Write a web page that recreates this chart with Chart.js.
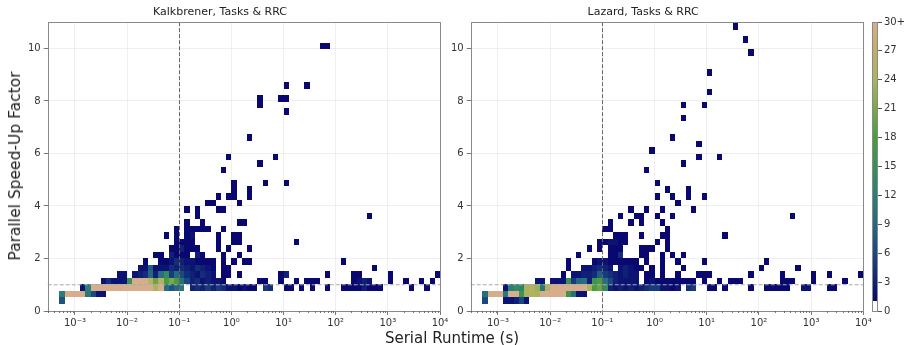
<!DOCTYPE html>
<html>
<head>
<meta charset="utf-8">
<script src="https://cdn.jsdelivr.net/npm/chart.js@4.4.1/dist/chart.umd.min.js"></script>
<style>
  body { margin: 0; background: #fff; width: 906px; height: 345px; position: relative; overflow: hidden; font-family: 'DejaVu Sans', sans-serif; }
  canvas { position: absolute; top: 0; }
  #ylab { position: absolute; left: 14.5px; top: 166px; transform: translate(-50%, -50%) rotate(-90deg); font-size: 15.5px; color: #222; white-space: nowrap; }
  #xlab { position: absolute; left: 452px; top: 338px; transform: translate(-50%, -50%); font-size: 15px; color: #222; white-space: nowrap; }
</style>
</head>
<body>
<canvas id="kalk" width="460" height="345" style="left:0"></canvas>
<canvas id="laz" width="460" height="345" style="left:423px"></canvas>
<canvas id="cbar" width="46" height="345" style="left:860px"></canvas>
<div id="ylab">Parallel Speed-Up Factor</div>
<div id="xlab">Serial Runtime (s)</div>
<script>
// histogram bins: runtime bin i spans 10^(i/10)..10^((i+1)/10),
// speed-up bin j spans start + j*width .. start + (j+1)*width
const runtimeBinsPerDecade = 10;
const speedupBinStart = 0.27;
const speedupBinWidth = 0.2485;

const panelTitles = ['Kalkbrener, Tasks & RRC', 'Lazard, Tasks & RRC'];
const runtimeTicks = [1e-3, 1e-2, 1e-1, 1, 10, 100, 1000, 10000];
const runtimeTickLabels = ['10⁻³', '10⁻²', '10⁻¹', '10⁰', '10¹', '10²', '10³', '10⁴'];
const speedupTicks = [0, 2, 4, 6, 8, 10];
const countTicks = [0, 3, 6, 9, 12, 15, 18, 21, 24, 27, 30];
const countTickLabels = ['0', '3', '6', '9', '12', '15', '18', '21', '24', '27', '30+'];
const countMax = 30;

// [speed-up bin j, first runtime bin i, counts for bins i, i+1, ...]
const kalkCells = [
  [0, -33, 7],
  [1, -33, 12, 35, 35, 35, 35, 11, 6, 2, 2],
  [2, -29, 2, 12, 35, 35, 35, 35, 35, 35, 35, 35, 35, 35, 35, 35, 24, 30, 10, 7, 9, 11],
  [2, -8, 3, 4, 3, 5, 3, 5, 4, 2, 2, 1, 2, 1, 1, 0, 5, 4],
  [2, 10, 1, 1, 0, 1, 0, 1, 0, 0, 1], [2, 21, 1, 1, 1, 1, 3, 1, 1, 1], [2, 34, 1], [2, 37, 1],
  [3, -25, 2, 4, 2, 2, 2, 15, 35, 35, 35, 26, 20, 25, 18, 21, 18, 10, 6, 3, 4, 2, 3, 2, 2, 1],
  [3, 5, 1, 1], [3, 9, 1], [3, 12, 1], [3, 14, 1, 1, 1], [3, 23, 1, 2, 3, 2], [3, 30, 1], [3, 33, 1], [3, 36, 1], [3, 38, 1],
  [4, -22, 2, 2, 0, 2, 3, 4, 9, 3, 10, 14, 5, 9, 6, 4, 3, 2, 4, 3, 2, 0, 1, 1, 0, 1],
  [4, 9, 1, 3], [4, 18, 1], [4, 23, 1, 1], [4, 30, 1], [4, 39, 1],
  [5, -18, 2, 2, 8, 2, 2, 2, 4, 3, 4, 3, 2, 4, 3, 2, 1, 0, 1, 1], [5, 27, 1],
  [6, -17, 1], [6, -14, 1, 1, 2, 4, 3, 2, 2, 1, 1, 1, 1], [6, -2, 1], [6, 0, 1], [6, 2, 1, 1], [6, 21, 1],
  [7, -15, 1, 1], [7, -12, 3, 1, 1, 1], [7, -7, 3, 1], [7, -2, 1], [7, 1, 1],
  [8, -12, 1, 1, 3, 1, 1, 1], [8, -3, 1], [8, -1, 1], [8, 3, 1],
  [9, -11, 1, 1, 1, 1], [9, -3, 1], [9, 0, 1, 1], [9, 12, 1],
  [10, -13, 1], [10, -11, 1, 0, 1, 2], [10, -3, 1], [10, 0, 1, 1],
  [11, -11, 1], [11, -9, 1, 1, 1, 1, 1], [11, -2, 1],
  [12, -9, 1], [12, -6, 1], [12, 1, 1, 1],
  [13, -7, 1], [13, 26, 1],
  [14, -9, 1], [14, -7, 1], [14, -3, 1, 1],
  [15, -5, 1, 1], [15, 1, 1],
  [16, -3, 1], [16, -1, 1, 1], [16, 3, 1],
  [17, 0, 1], [17, 3, 1],
  [18, 0, 1], [18, 6, 1], [18, 10, 1],
  [20, -2, 1], [21, 5, 1], [22, -1, 1], [22, 8, 1],
  [25, 3, 1], [29, 10, 1], [30, 5, 1], [31, 5, 1], [31, 9, 1, 1],
  [33, 10, 1], [33, 14, 1], [39, 17, 1, 1]
];

const lazardCells = [
  [0, -33, 6], [0, -29, 2, 2, 3, 6, 2],
  [1, -33, 10, 35, 35, 35, 11, 32, 30, 16, 24, 25, 24, 35, 35, 35, 35, 35, 16, 10, 2, 2],
  [2, -29, 2, 12, 14, 13, 24, 25, 23, 11, 25, 35, 35, 35, 35, 35, 35, 35, 24, 18, 20, 14, 3, 2, 3, 2, 3, 2, 3, 4, 5, 5, 2, 2, 1, 2, 0, 4, 5],
  [2, 10, 1, 1, 0, 1], [2, 18, 1], [2, 21, 1, 1, 1, 1, 1], [2, 28, 2, 2], [2, 33, 1, 1],
  [3, -23, 2, 2, 0, 2, 2, 2, 15, 5, 9, 10, 3, 16, 18, 10, 6, 3, 2, 2, 2, 2, 0, 1, 2, 1, 1, 1, 1, 1, 1, 1, 1],
  [3, 9, 1], [3, 12, 1], [3, 14, 1, 1, 1], [3, 24, 1, 1, 1], [3, 30, 1], [3, 36, 1],
  [4, -18, 1, 0, 2, 2, 3, 3, 4, 8, 5, 4, 3, 2, 3, 2, 2, 0, 1, 1, 0, 1],
  [4, 4, 1], [4, 8, 1, 1, 1], [4, 18, 1], [4, 24, 1], [4, 30, 1], [4, 33, 1], [4, 39, 1],
  [5, -17, 1], [5, -14, 2, 2, 3, 4, 3, 2, 0, 2, 3, 2, 1, 1], [5, -1, 1], [5, 1, 1], [5, 5, 1], [5, 20, 1], [5, 27, 1],
  [6, -17, 1], [6, -12, 1, 2, 2, 1, 1, 1, 1, 1, 1], [6, -2, 1], [6, 1, 1], [6, 4, 1], [6, 9, 1], [6, 21, 1],
  [7, -15, 1], [7, -9, 1, 1, 4], [7, -3, 1, 1], [7, 1, 1], [7, 3, 1], [7, 5, 1],
  [8, -13, 1], [8, -11, 1], [8, -9, 1, 1, 1], [8, -3, 1, 1, 1], [8, 2, 1],
  [9, -11, 1, 1, 2, 2, 1, 1], [9, 0, 1], [9, 2, 1],
  [10, -8, 1, 1, 1], [10, -3, 1], [10, 1, 1, 1], [10, 13, 1],
  [11, -10, 1, 1], [11, 2, 1],
  [12, -9, 1], [12, -5, 1], [12, -3, 1], [12, 1, 1],
  [13, -7, 1], [13, -4, 1, 1], [13, 0, 1], [13, 3, 1], [13, 26, 1],
  [14, -5, 1], [14, -2, 1], [14, 1, 1], [14, 7, 1],
  [15, 4, 1],
  [16, 0, 1], [16, 3, 1], [16, 6, 1], [16, 9, 1],
  [17, 2, 1], [17, 6, 1],
  [18, 0, 1], [20, -2, 1], [21, 5, 1], [22, 8, 1], [22, 12, 1], [23, -1, 1], [24, 8, 1],
  [25, 3, 1], [28, 5, 1], [30, 5, 1], [30, 9, 1], [32, 10, 1], [35, 10, 1],
  [38, 18, 1], [40, 17, 1], [42, 15, 1]
];

// colour map (count -> rgb), earth-like: navy -> teal -> green -> olive -> tan
const cmapStops = [
  [1, [8, 8, 112]], [3, [16, 32, 118]], [6, [28, 72, 128]], [9, [38, 104, 128]],
  [12, [44, 126, 118]], [15, [56, 144, 88]], [18, [74, 156, 62]], [21, [122, 168, 76]],
  [24, [170, 180, 96]], [27, [196, 172, 104]], [30, [214, 174, 140]]
];

function countColor(n) {
  const v = Math.min(Math.max(n, cmapStops[0][0]), countMax);
  for (let k = 1; k < cmapStops.length; k++) {
    const [v1, c1] = cmapStops[k];
    const [v0, c0] = cmapStops[k - 1];
    if (v <= v1) {
      const t = (v - v0) / (v1 - v0);
      const c = c0.map((a, m) => Math.round(a + (c1[m] - a) * t));
      return `rgb(${c[0]},${c[1]},${c[2]})`;
    }
  }
  const c = cmapStops[cmapStops.length - 1][1];
  return `rgb(${c[0]},${c[1]},${c[2]})`;
}

function expandCells(rows) {
  const pts = [];
  rows.forEach(([j, i0, ...counts]) => {
    counts.forEach((n, k) => {
      if (n <= 0) return;
      const i = i0 + k;
      pts.push({
        x: Math.pow(10, (i + 0.5) / runtimeBinsPerDecade),
        y: speedupBinStart + (j + 0.5) * speedupBinWidth,
        i: i, j: j, n: n
      });
    });
  });
  return pts;
}

Chart.defaults.font.family = "'DejaVu Sans', sans-serif";
Chart.defaults.color = '#333';

const frameColor = '#8a8a8a';
const gridColor = '#ebebeb';
const tickColor = '#555';

// draws the 2d histogram cells, the reference lines and the frame
const heatmapPlugin = {
  id: 'heatmap',
  beforeDatasetsDraw(chart) {
    const ctx = chart.ctx;
    const xs = chart.scales.x, ys = chart.scales.y;
    const area = chart.chartArea;
    ctx.save();
    ctx.beginPath();
    ctx.rect(area.left, area.top, area.right - area.left, area.bottom - area.top);
    ctx.clip();
    chart.data.datasets[0].data.forEach(p => {
      const x0 = Math.round(xs.getPixelForValue(Math.pow(10, p.i / runtimeBinsPerDecade)));
      const x1 = Math.round(xs.getPixelForValue(Math.pow(10, (p.i + 1) / runtimeBinsPerDecade)));
      const yb = Math.round(ys.getPixelForValue(speedupBinStart + p.j * speedupBinWidth));
      const yt = Math.round(ys.getPixelForValue(speedupBinStart + (p.j + 1) * speedupBinWidth));
      ctx.fillStyle = countColor(p.n);
      ctx.fillRect(x0, yt, x1 - x0, yb - yt);
    });
    ctx.restore();
  },
  afterDatasetsDraw(chart) {
    const ctx = chart.ctx;
    const xs = chart.scales.x, ys = chart.scales.y;
    const area = chart.chartArea;
    ctx.save();
    // vertical reference at 0.1 s
    const vx = Math.round(xs.getPixelForValue(0.1)) + 0.5;
    ctx.strokeStyle = '#666';
    ctx.lineWidth = 1;
    ctx.setLineDash([4, 2]);
    ctx.beginPath();
    ctx.moveTo(vx, area.top);
    ctx.lineTo(vx, area.bottom);
    ctx.stroke();
    // horizontal reference at speed-up 1
    const hy = ys.getPixelForValue(1);
    ctx.strokeStyle = '#ababab';
    ctx.lineWidth = 1.2;
    ctx.beginPath();
    ctx.moveTo(area.left, hy);
    ctx.lineTo(area.right, hy);
    ctx.stroke();
    ctx.setLineDash([]);
    // frame
    ctx.strokeStyle = frameColor;
    ctx.lineWidth = 1;
    ctx.strokeRect(Math.round(area.left) + 0.5, Math.round(area.top) + 0.5,
      Math.round(area.right) - Math.round(area.left), Math.round(area.bottom) - Math.round(area.top));
    // short minor ticks on the log axis
    ctx.strokeStyle = tickColor;
    ctx.lineWidth = 0.8;
    xs.ticks.forEach(t => {
      if (t.major) return;
      const px = Math.round(xs.getPixelForValue(t.value)) + 0.5;
      ctx.beginPath();
      ctx.moveTo(px, area.bottom);
      ctx.lineTo(px, area.bottom + 2);
      ctx.stroke();
    });
    ctx.restore();
  }
};

function makePanel(canvasId, title, cells, rightPad) {
  new Chart(document.getElementById(canvasId), {
    type: 'scatter',
    data: {
      datasets: [{
        label: title,
        data: expandCells(cells),
        pointRadius: 0,
        pointHoverRadius: 0
      }]
    },
    options: {
      responsive: false,
      animation: false,
      events: [],
      layout: { padding: { left: 0, right: rightPad, top: 0, bottom: 0 } },
      plugins: {
        legend: { display: false },
        tooltip: { enabled: false },
        title: {
          display: true,
          text: title,
          color: '#222',
          font: { size: 11, weight: 'normal' },
          padding: { top: 6, bottom: 3 }
        }
      },
      scales: {
        x: {
          type: 'logarithmic',
          min: Math.pow(10, -3.5),
          max: 1e4,
          afterBuildTicks: scale => {
            const ticks = [];
            for (let e = -4; e <= 4; e++) {
              for (let m = 1; m <= 9; m++) {
                const v = m * Math.pow(10, e);
                if (v >= scale.min * 0.999 && v <= scale.max * 1.001) {
                  ticks.push({ value: v, major: m === 1 });
                }
              }
            }
            scale.ticks = ticks;
          },
          afterFit: scale => { scale.height = 34; },
          grid: {
            color: c => (c.tick && c.tick.major ? gridColor : 'rgba(0,0,0,0)'),
            tickColor: c => (c.tick && c.tick.major ? tickColor : 'rgba(0,0,0,0)'),
            tickLength: 4,
            lineWidth: 0.8
          },
          border: { display: false },
          ticks: {
            autoSkip: false,
            maxRotation: 0,
            padding: 2,
            color: '#333',
            font: { size: 10 },
            callback: value => {
              const k = runtimeTicks.findIndex(t => Math.abs(t - value) / t < 1e-6);
              return k >= 0 ? runtimeTickLabels[k] : '';
            }
          }
        },
        y: {
          type: 'linear',
          min: 0,
          max: 11,
          afterBuildTicks: scale => { scale.ticks = speedupTicks.map(v => ({ value: v })); },
          afterFit: scale => { scale.width = 47.7; },
          grid: { color: gridColor, tickColor: tickColor, tickLength: 4, lineWidth: 0.8 },
          border: { display: false },
          ticks: { padding: 3, color: '#333', font: { size: 10 } }
        }
      }
    },
    plugins: [heatmapPlugin]
  });
}

makePanel('kalk', panelTitles[0], kalkCells, 20);
makePanel('laz', panelTitles[1], lazardCells, 19.7);

// colour bar
const cbarFramePlugin = {
  id: 'cbarFrame',
  afterDatasetsDraw(chart) {
    const ctx = chart.ctx;
    const a = chart.chartArea;
    ctx.save();
    ctx.strokeStyle = frameColor;
    ctx.lineWidth = 1;
    ctx.strokeRect(Math.round(a.left) + 0.5, Math.round(a.top) + 0.5,
      Math.round(a.right) - Math.round(a.left) - 1, Math.round(a.bottom) - Math.round(a.top));
    ctx.restore();
  }
};

new Chart(document.getElementById('cbar'), {
  type: 'bar',
  data: {
    labels: [''],
    datasets: [{
      data: [[0, countMax]],
      borderWidth: 0,
      barPercentage: 1,
      categoryPercentage: 1,
      backgroundColor: c => {
        const chart = c.chart;
        if (!chart.chartArea) return '#fff';
        const ys = chart.scales.y;
        const g = chart.ctx.createLinearGradient(0, ys.getPixelForValue(0), 0, ys.getPixelForValue(countMax));
        g.addColorStop(0, '#ffffff');
        g.addColorStop(0.999 / countMax, '#ffffff');
        cmapStops.forEach(([v]) => g.addColorStop(v / countMax, countColor(v)));
        return g;
      }
    }]
  },
  options: {
    responsive: false,
    animation: false,
    events: [],
    layout: { padding: { left: 12, right: 0, top: 22, bottom: 34 } },
    plugins: { legend: { display: false }, tooltip: { enabled: false } },
    scales: {
      x: { display: false },
      y: {
        position: 'right',
        min: 0,
        max: countMax,
        afterBuildTicks: scale => { scale.ticks = countTicks.map(v => ({ value: v })); },
        afterFit: scale => { scale.width = 28; },
        grid: { drawOnChartArea: false, tickColor: tickColor, tickLength: 4 },
        border: { display: false },
        ticks: {
          padding: 2,
          color: '#333',
          font: { size: 10 },
          callback: (value) => countTickLabels[countTicks.indexOf(value)]
        }
      }
    }
  },
  plugins: [cbarFramePlugin]
});
</script>
</body>
</html>
